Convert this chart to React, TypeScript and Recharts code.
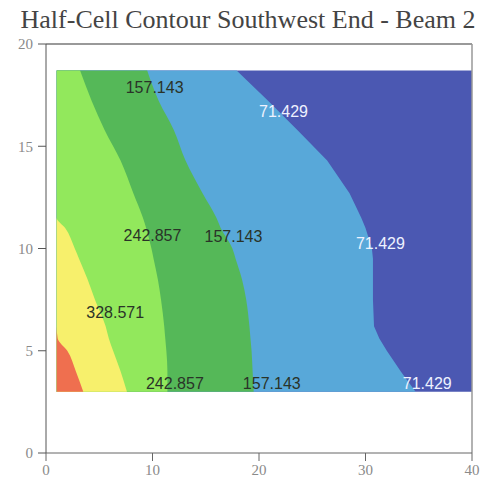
import React from "react";
import { ComposedChart, Area, XAxis, YAxis, ReferenceLine, ReferenceDot } from "recharts";

// Contour boundary rows (x position of each level boundary at a given y)
const yRows = [3, 4, 5, 5.6, 6.2, 7.5, 8.5, 9.5, 10, 11, 11.5, 12.7, 14.3, 15.8, 17.2, 18.7];
const rightEdge = [40, 40, 40, 40, 40, 40, 40, 40, 40, 40, 40, 40, 40, 40, 40, 40];
const b71 = [34.7, 33.3, 32.0, 31.3, 30.8, 30.7, 30.7, 30.7, 30.6, 30.0, 29.6, 28.5, 26.4, 23.6, 20.9, 17.9];
const b157 = [19.5, 19.4, 19.3, 19.2, 19.1, 18.8, 18.4, 17.8, 17.5, 16.4, 16.0, 14.7, 13.1, 12.0, 10.6, 9.5];
const b243 = [11.4, 11.4, 11.3, 11.2, 11.1, 10.8, 10.5, 10.1, 9.9, 9.4, 9.1, 8.2, 7.0, 5.5, 4.3, 3.2];
const b329 = [7.6, 7.0, 6.3, 5.9, 5.6, 4.6, 3.9, 3.1, 2.7, 1.8, 1.0, 1.0, 1.0, 1.0, 1.0, 1.0];
const b414 = [3.5, 2.8, 2.0, 1.1, 1.0, 1.0, 1.0, 1.0, 1.0, 1.0, 1.0, 1.0, 1.0, 1.0, 1.0, 1.0];

// Contour labels
const labelText = ["157.143", "71.429", "242.857", "157.143", "71.429", "328.571", "242.857", "157.143", "71.429"];
const labelX = [10.2, 22.3, 10.0, 17.6, 31.4, 6.5, 12.1, 21.2, 35.8];
const labelY = [17.9, 16.7, 10.66, 10.6, 10.27, 6.9, 3.4, 3.4, 3.4];
const labelLight = [false, true, false, false, true, false, false, false, true];

const xTicks = [0, 10, 20, 30, 40];
const yTicks = [0, 5, 10, 15, 20];
const title = "Half-Cell Contour Southwest End - Beam 2";

const data = yRows.map((y, i) => ({
  y,
  right: rightEdge[i],
  b71: b71[i],
  b157: b157[i],
  b243: b243[i],
  b329: b329[i],
  b414: b414[i],
}));

const bands = [
  { key: "right", color: "#4b58b2", type: "linear" },
  { key: "b71", color: "#58a8d9", type: "linear" },
  { key: "b157", color: "#55b858", type: "monotone" },
  { key: "b243", color: "#92e85c", type: "monotone" },
  { key: "b329", color: "#f7f06c", type: "monotone" },
  { key: "b414", color: "#ef6f4f", type: "monotone" },
];

const tickStyle = { fill: "#8a8a8a", fontSize: 15, fontFamily: "'Liberation Serif', serif" };

export default function App() {
  return (
    <div style={{ position: "absolute", left: 0, top: 0, width: 488, height: 489, background: "#fff" }}>
      <div
        style={{
          position: "absolute",
          left: 0,
          top: 5,
          width: 496,
          textAlign: "center",
          fontFamily: "'Liberation Serif', serif",
          fontSize: 26,
          color: "#444",
          whiteSpace: "nowrap",
          lineHeight: "30px",
        }}
      >
        {title}
      </div>
      <ComposedChart
        width={488}
        height={489}
        data={data}
        layout="vertical"
        margin={{ top: 44, right: 16, bottom: 0, left: 6 }}
      >
        <XAxis
          type="number"
          domain={[0, 40]}
          ticks={xTicks}
          allowDataOverflow
          height={36}
          tickSize={8}
          tickMargin={3}
          stroke="#666"
          tick={tickStyle}
        />
        <YAxis
          type="number"
          dataKey="y"
          domain={[0, 20]}
          ticks={yTicks}
          reversed
          allowDataOverflow
          width={40}
          tickSize={8}
          tickMargin={5}
          stroke="#555"
          tick={tickStyle}
        />
        {bands.map((b) => (
          <Area
            key={b.key}
            dataKey={b.key}
            type={b.type as any}
            baseValue={1}
            stroke="none"
            fill={b.color}
            fillOpacity={1}
            isAnimationActive={false}
            dot={false}
            activeDot={false}
          />
        ))}
        <ReferenceLine y={20} stroke="#777" strokeWidth={1.5} ifOverflow="visible" />
        <ReferenceLine x={40} stroke="#999" strokeWidth={1.5} ifOverflow="visible" />
        {labelText.map((t, i) => (
          <ReferenceDot
            key={i}
            x={labelX[i]}
            y={labelY[i]}
            r={1}
            fill="none"
            stroke="none"
            ifOverflow="visible"
            label={{
              value: t,
              position: "center",
              fill: labelLight[i] ? "#eef2ff" : "#2a3328",
              fontSize: 16,
              fontFamily: "'Liberation Sans', Arial, sans-serif",
            }}
          />
        ))}
      </ComposedChart>
    </div>
  );
}
